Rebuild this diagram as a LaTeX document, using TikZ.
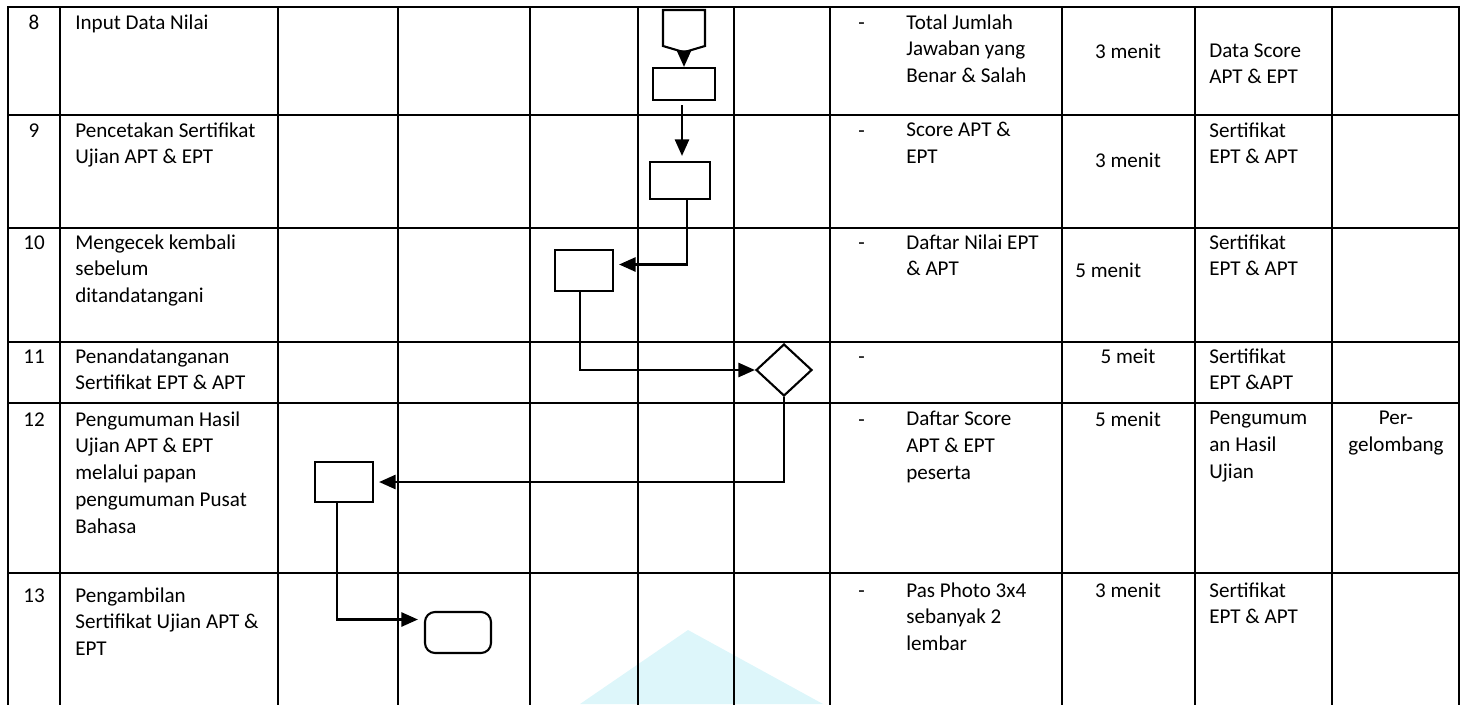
\documentclass[tikz,border=0pt]{standalone}
\usepackage{fontspec}
\setmainfont{Carlito}
\usetikzlibrary{arrows.meta,shapes.geometric,shapes.symbols}
\definecolor{wmcyan}{HTML}{DDF6FA}
\newcommand{\cellfont}{\fontsize{12}{15.3}\selectfont}
\tikzset{
  tabline/.style={draw=black, line width=1.5pt, line cap=rect},          % table rule
  cell/.style={anchor=north west, yshift=10.7pt, align=left, inner sep=0pt,
               font=\cellfont, execute at begin node=\strut},            % at first baseline
  mid/.style={cell, anchor=north, align=center},
  multiline/.style={yshift=-2.2pt},                                      % no strut in first line
  proc/.style={rectangle, draw=black, line width=1.2pt, inner sep=0pt},  % process box
  flow/.style={draw=black, line width=1.4pt, -{Triangle[length=3.3mm,width=2.8mm]}},
}

\begin{document}
\begin{tikzpicture}[x=0.02cm, y=-0.02cm]
  \useasboundingbox (0,0) rectangle (1465,704);
  \fill[wmcyan] (580,704) -- (688,630) -- (823,704) -- cycle; % faint watermark
  % table rules
  \foreach \y in {7,115,228,342,403,573} \draw[tabline] (8,\y) -- (1459,\y);
  \foreach \x in {8,60,278,398,530,638,734,830,1062,1195,1332,1459} \draw[tabline] (\x,7) -- (\x,704);

  % step numbers and dashes
  \foreach \n/\y in {8/29,9/137,10/249,11/363,12/426,13/602} \node[mid] (no\n) at (34,\y) {\n};
  \foreach \n/\y in {8/29,9/137,10/249,11/363,12/426,13/597} \node[cell] (dash\n) at (858,\y) {-};

  % activities
  \node[cell] (act8)  at (75,29)  {Input Data Nilai};
  \node[cell, multiline] (act9)  at (75,137) {Pencetakan Sertifikat\\Ujian APT \& EPT};
  \node[cell, multiline] (act10) at (75,249) {Mengecek kembali\\sebelum\\ditandatangani};
  \node[cell, multiline] (act11) at (75,363) {Penandatanganan\\Sertifikat EPT \& APT};
  \node[cell, multiline] (act12) at (75,426) {Pengumuman Hasil\\Ujian APT \& EPT\\melalui papan\\pengumuman Pusat\\Bahasa};
  \node[cell, multiline] (act13) at (75,602) {Pengambilan\\Sertifikat Ujian APT \&\\EPT};

  % requirements
  \node[cell, multiline] (req8)  at (906,29)  {Total Jumlah\\Jawaban yang\\Benar \& Salah};
  \node[cell, multiline] (req9)  at (906,137) {Score APT \&\\EPT};
  \node[cell, multiline] (req10) at (906,249) {Daftar Nilai EPT\\\& APT};
  \node[cell, multiline] (req12) at (906,426) {Daftar Score\\APT \& EPT\\peserta};
  \node[cell, multiline] (req13) at (906,597) {Pas Photo 3x4\\sebanyak 2\\lembar};

  % time
  \node[mid]  (time8)  at (1128,58)  {3 menit};
  \node[mid]  (time9)  at (1128,167) {3 menit};
  \node[cell] (time10) at (1075,277) {5 menit};
  \node[mid]  (time11) at (1128,363) {5 meit};
  \node[mid]  (time12) at (1128,426) {5 menit};
  \node[mid]  (time13) at (1128,597) {3 menit};

  % output
  \node[cell, multiline] (out8)  at (1209,58)  {Data Score\\APT \& EPT};
  \node[cell, multiline] (out9)  at (1209,137) {Sertifikat\\EPT \& APT};
  \node[cell, multiline] (out10) at (1209,249) {Sertifikat\\EPT \& APT};
  \node[cell, multiline] (out11) at (1209,363) {Sertifikat\\EPT \&APT};
  \node[cell, multiline] (out12) at (1209,426) {Pengumum\\an Hasil\\Ujian};
  \node[cell, multiline] (out13) at (1209,597) {Sertifikat\\EPT \& APT};
  \node[mid, multiline]  (note12) at (1396,426) {Per-\\gelombang};

  % flow symbols
  \node[signal, signal to=south, signal pointer angle=147, draw=black, line width=1.2pt,
        inner sep=0pt, minimum width=0.84cm, minimum height=0.72cm] (conn) at (684,28) {};
  \node[proc, minimum width=1.24cm, minimum height=0.64cm] (inp)   at (684,84)    {};
  \node[proc, minimum width=1.2cm,  minimum height=0.74cm] (cetak) at (680,180.5) {};
  \node[proc, minimum width=1.16cm, minimum height=0.82cm] (cek)   at (584,270.5) {};
  \node[diamond, draw=black, line width=1.2pt, inner sep=0pt,
        minimum width=1.12cm, minimum height=1.04cm] (ttd) at (784,370) {};
  \node[proc, minimum width=1.16cm, minimum height=0.8cm]  (umum)  at (344,482)   {};
  \node[proc, rounded corners=0.2cm, minimum width=1.32cm, minimum height=0.82cm] (ambil) at (458,632.5) {};

  % connectors
  \draw[flow] (conn.south) -- (inp.north);
  \draw[flow, shorten <=0.08cm, shorten >=0.1cm] (inp.south -| 682,0) -- (cetak.north -| 682,0);
  \draw[flow, shorten >=0.1cm] ([xshift=0.14cm]cetak.south) |- ([yshift=0.12cm]cek.east);
  \draw[flow] ([xshift=-0.08cm]cek.south) |- (ttd.west);
  \draw[flow, shorten >=0.1cm] (ttd.south) |- (umum.east);
  \draw[flow, shorten >=0.12cm] ([xshift=-0.14cm]umum.south) |- ([yshift=0.26cm]ambil.west);
\end{tikzpicture}
\end{document}
